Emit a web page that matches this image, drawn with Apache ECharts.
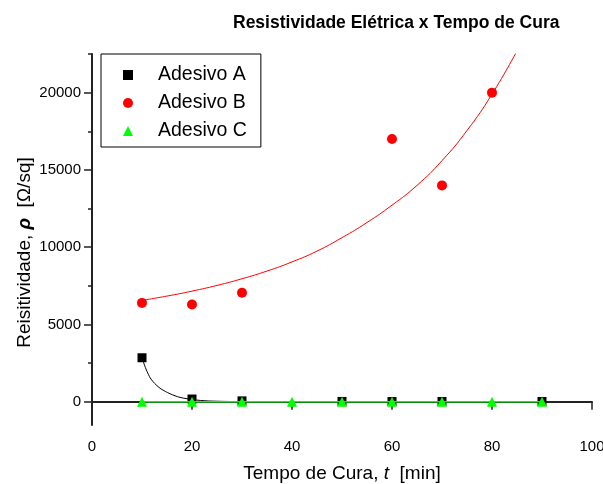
<!DOCTYPE html>
<html>
<head>
<meta charset="utf-8">
<script src="https://cdn.jsdelivr.net/npm/echarts@6/dist/echarts.min.js"></script>
<style>
  html, body { margin: 0; padding: 0; background: #fff; }
  #main { width: 603px; height: 484px; }
</style>
</head>
<body>
<div id="main"></div>
<script>
// measured points [tempo (min), resistividade]
var adesivoA = [[10, 2850], [20, 180], [30, 60], [50, 25], [60, 20], [70, 20], [90, 20]];
var adesivoB = [[10, 6400], [20, 6300], [30, 7050], [60, 17000], [70, 14000], [80, 20000]];
var adesivoC = [[10, 0], [20, 0], [30, 0], [40, 0], [50, 0], [60, 0], [70, 0], [80, 0], [90, 0]];

// fitted curves
var fitA = [[10, 2850], [10.8, 2120], [11.8, 1470], [13.4, 930], [15.1, 600], [17.1, 330],
  [19.4, 175], [22.4, 70], [26, 30], [30, 12], [40, 3], [90, 0]];
var fitB = [[10, 6560], [15, 6840], [20, 7160], [25, 7530], [30, 7960], [35, 8460],
  [40, 9050], [45, 9750], [50, 10620], [55, 11600], [60, 12720], [65, 14000],
  [70, 15600], [75, 17550], [80, 19900], [85, 22700]];

var yTicks = [0, 5000, 10000, 15000, 20000];
var yMinorTicks = [2500, 7500, 12500, 17500, 22500];

var chart = echarts.init(document.getElementById('main'));

var axisLine = { lineStyle: { color: '#222', width: 2 } };
var font = 'Arial, "Liberation Sans", sans-serif';

var option = {
  animation: false,
  textStyle: { fontFamily: font },
  title: {
    text: 'Resistividade Elétrica x Tempo de Cura',
    left: 228,
    top: 9,
    textStyle: { fontSize: 17.5, fontWeight: 'bold', color: '#000', fontFamily: font }
  },
  legend: {
    data: ['Adesivo A', 'Adesivo B', 'Adesivo C'],
    orient: 'vertical',
    left: 101,
    top: 54,
    padding: [11, 14, 6, 22],
    itemGap: 8,
    itemWidth: 10,
    itemHeight: 10,
    borderColor: '#000',
    borderWidth: 1,
    textStyle: { fontSize: 19.5, lineHeight: 20, color: '#000', fontFamily: font, padding: [0, 0, 0, 20] }
  },
  grid: {
    left: 92,
    right: 11,
    top: 54,
    bottom: 59,
    outerBoundsMode: 'none'
  },
  xAxis: {
    type: 'value',
    min: 0,
    max: 100,
    interval: 20,
    name: 'Tempo de Cura, {i|t}  [min]',
    nameLocation: 'middle',
    nameGap: 39,
    nameTextStyle: {
      fontSize: 19, color: '#000',
      rich: { i: { fontSize: 19, fontStyle: 'italic', color: '#000' } }
    },
    axisLine: axisLine,
    axisTick: { length: 8, lineStyle: { color: '#222', width: 1.5 } },
    minorTick: { show: true, splitNumber: 2, length: 4, lineStyle: { color: '#222', width: 1.5 } },
    axisLabel: { fontSize: 15, color: '#000', margin: 14 },
    splitLine: { show: false }
  },
  yAxis: [
    {
      type: 'value',
      min: -1500,
      max: 22500,
      name: 'Reisitividade, {g|ρ}  [Ω/sq]',
      nameLocation: 'middle',
      nameRotate: 90,
      nameGap: 58,
      nameMoveOverlap: false,
      nameTextStyle: {
        fontSize: 19, color: '#000', padding: [0, 26, 0, 0],
        rich: { g: { fontSize: 19, fontStyle: 'italic', fontWeight: 'bold', color: '#000' } }
      },
      axisLine: axisLine,
      axisTick: { length: 8, customValues: yTicks, lineStyle: { color: '#222', width: 1.5 } },
      axisLabel: {
        fontSize: 15, color: '#000', margin: 11, customValues: yTicks,
        formatter: function (v) { return String(v); }
      },
      splitLine: { show: false }
    },
    {
      type: 'value',
      min: -1500,
      max: 22500,
      position: 'left',
      axisLine: { show: false },
      axisTick: { show: true, length: 4, customValues: yMinorTicks, lineStyle: { color: '#222', width: 1.5 } },
      axisLabel: { show: false },
      splitLine: { show: false }
    }
  ],
  series: [
    {
      name: 'fit A',
      type: 'line',
      data: fitA,
      smooth: 0.3,
      showSymbol: false,
      lineStyle: { color: '#000', width: 1 },
      z: 1
    },
    {
      name: 'fit B',
      type: 'line',
      data: fitB,
      smooth: true,
      showSymbol: false,
      lineStyle: { color: '#ff0000', width: 1 },
      z: 1
    },
    {
      name: 'Adesivo A',
      type: 'scatter',
      symbol: 'rect',
      symbolSize: 9,
      data: adesivoA,
      itemStyle: { color: '#000', opacity: 1 },
      z: 3
    },
    {
      name: 'Adesivo B',
      type: 'scatter',
      symbol: 'circle',
      symbolSize: 10,
      data: adesivoB,
      itemStyle: { color: '#ff0000', opacity: 1 },
      z: 3
    },
    {
      name: 'line C',
      type: 'line',
      data: adesivoC,
      showSymbol: false,
      lineStyle: { color: '#00ff00', width: 1.5 },
      z: 4
    },
    {
      name: 'Adesivo C',
      type: 'scatter',
      symbol: 'triangle',
      symbolSize: 10,
      data: adesivoC,
      itemStyle: { color: '#00ff00', opacity: 1 },
      z: 5
    }
  ]
};

chart.setOption(option);
</script>
</body>
</html>
